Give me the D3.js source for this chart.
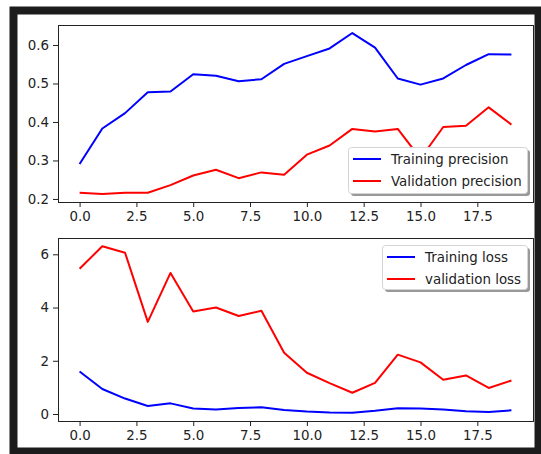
<!DOCTYPE html>
<html>
<head>
<meta charset="utf-8">
<script src="https://cdn.jsdelivr.net/npm/d3@7"></script>
<style>
  body { margin: 0; background: #fff; }
  text { font-family: "DejaVu Sans", sans-serif; fill: #222; }
</style>
</head>
<body>
<svg id="chart" width="541" height="454"></svg>
<script>
// epochs 0..19
var epochs = d3.range(20);
var xTicks = [0, 2.5, 5, 7.5, 10, 12.5, 15, 17.5];

// top panel: precision
var trainPrecision = [0.291, 0.383, 0.423, 0.477, 0.479, 0.524, 0.520, 0.506, 0.511, 0.551,
                      0.571, 0.591, 0.631, 0.593, 0.513, 0.497, 0.513, 0.548, 0.576, 0.575];
var valPrecision = [0.216, 0.213, 0.216, 0.216, 0.236, 0.261, 0.276, 0.254, 0.269, 0.263,
                    0.315, 0.339, 0.382, 0.375, 0.382, 0.305, 0.387, 0.390, 0.438, 0.393];
var precisionTicks = [0.2, 0.3, 0.4, 0.5, 0.6];

// bottom panel: loss
var trainLoss = [1.60, 0.94, 0.58, 0.30, 0.40, 0.21, 0.17, 0.23, 0.25, 0.15,
                 0.09, 0.06, 0.05, 0.12, 0.22, 0.21, 0.17, 0.10, 0.08, 0.14];
var valLoss = [5.46, 6.30, 6.06, 3.46, 5.30, 3.85, 4.00, 3.68, 3.88, 2.30,
               1.55, 1.16, 0.80, 1.17, 2.23, 1.94, 1.29, 1.45, 0.98, 1.26];
var lossTicks = [0, 2, 4, 6];

var fontSize = 13.4;

var svg = d3.select('#chart');

// dark frame around the figure
svg.append('rect').attr('x', 13.5).attr('y', 10.5).attr('width', 525).attr('height', 441)
   .attr('fill', '#fff').attr('stroke', '#1c1c1c').attr('stroke-width', 8);

// pad the domain like matplotlib does (5%)
var pad = function(vals) {
  var ext = d3.extent(vals);
  var m = (ext[1] - ext[0]) * 0.05;
  return [ext[0] - m, ext[1] + m];
};

var drawPanel = function(box, series, yTicks, yFmt, legend) {
  var x = d3.scaleLinear().domain(pad(epochs)).range([box.left, box.right]);
  var allVals = [].concat.apply([], series.map(function(s) { return s.values; }));
  var y = d3.scaleLinear().domain(pad(allVals)).range([box.bottom, box.top]);

  var g = svg.append('g');

  var line = d3.line()
    .x(function(d, i) { return x(epochs[i]); })
    .y(function(d) { return y(d); });

  series.forEach(function(s) {
    g.append('path').datum(s.values)
     .attr('d', line)
     .attr('fill', 'none')
     .attr('stroke', s.color)
     .attr('stroke-width', 2)
     .attr('stroke-linejoin', 'round');
  });

  // axes
  var xAxis = d3.axisBottom(x).tickValues(xTicks).tickSize(5).tickPadding(4)
                .tickFormat(d3.format('.1f'));
  var yAxis = d3.axisLeft(y).tickValues(yTicks).tickSize(5).tickPadding(4)
                .tickFormat(yFmt);

  var gx = g.append('g').attr('transform', 'translate(0,' + box.bottom + ')').call(xAxis);
  var gy = g.append('g').attr('transform', 'translate(' + box.left + ',0)').call(yAxis);
  [gx, gy].forEach(function(a) {
    a.select('.domain').remove();
    a.selectAll('line').attr('stroke', '#222');
    a.selectAll('text').attr('font-size', fontSize).style('fill', '#222')
     .style('font-family', '"DejaVu Sans", sans-serif');
  });

  g.append('rect')
   .attr('x', box.left + 0.5).attr('y', box.top + 0.5)
   .attr('width', box.right - box.left).attr('height', box.bottom - box.top)
   .attr('fill', 'none').attr('stroke', '#222').attr('stroke-width', 1);

  // legend with a shadow
  var lg = g.append('g').attr('transform', 'translate(' + legend.x + ',' + legend.y + ')');
  lg.append('rect').attr('x', 3).attr('y', 3).attr('rx', 3)
    .attr('width', legend.w).attr('height', legend.h).attr('fill', '#999');
  lg.append('rect').attr('x', 0.5).attr('y', 0.5).attr('rx', 3)
    .attr('width', legend.w).attr('height', legend.h)
    .attr('fill', '#fff').attr('stroke', '#d4d4d4');
  series.forEach(function(s, i) {
    var cy = 12 + i * 22;
    lg.append('line').attr('x1', 5).attr('x2', 33).attr('y1', cy).attr('y2', cy)
      .attr('stroke', s.color).attr('stroke-width', 2);
    lg.append('text').attr('x', 43).attr('y', cy).attr('dy', '0.35em')
      .attr('font-size', fontSize).text(s.label);
  });
};

drawPanel({ left: 58, right: 533, top: 25, bottom: 202 },
  [{ values: trainPrecision, color: '#0000ff', label: 'Training precision' },
   { values: valPrecision, color: '#ff0000', label: 'Validation precision' }],
  precisionTicks, d3.format('.1f'),
  { x: 348, y: 147, w: 179, h: 46 });

drawPanel({ left: 58, right: 533, top: 238, bottom: 421 },
  [{ values: trainLoss, color: '#0000ff', label: 'Training loss' },
   { values: valLoss, color: '#ff0000', label: 'validation loss' }],
  lossTicks, d3.format('d'),
  { x: 382, y: 245, w: 145, h: 44 });
</script>
</body>
</html>
